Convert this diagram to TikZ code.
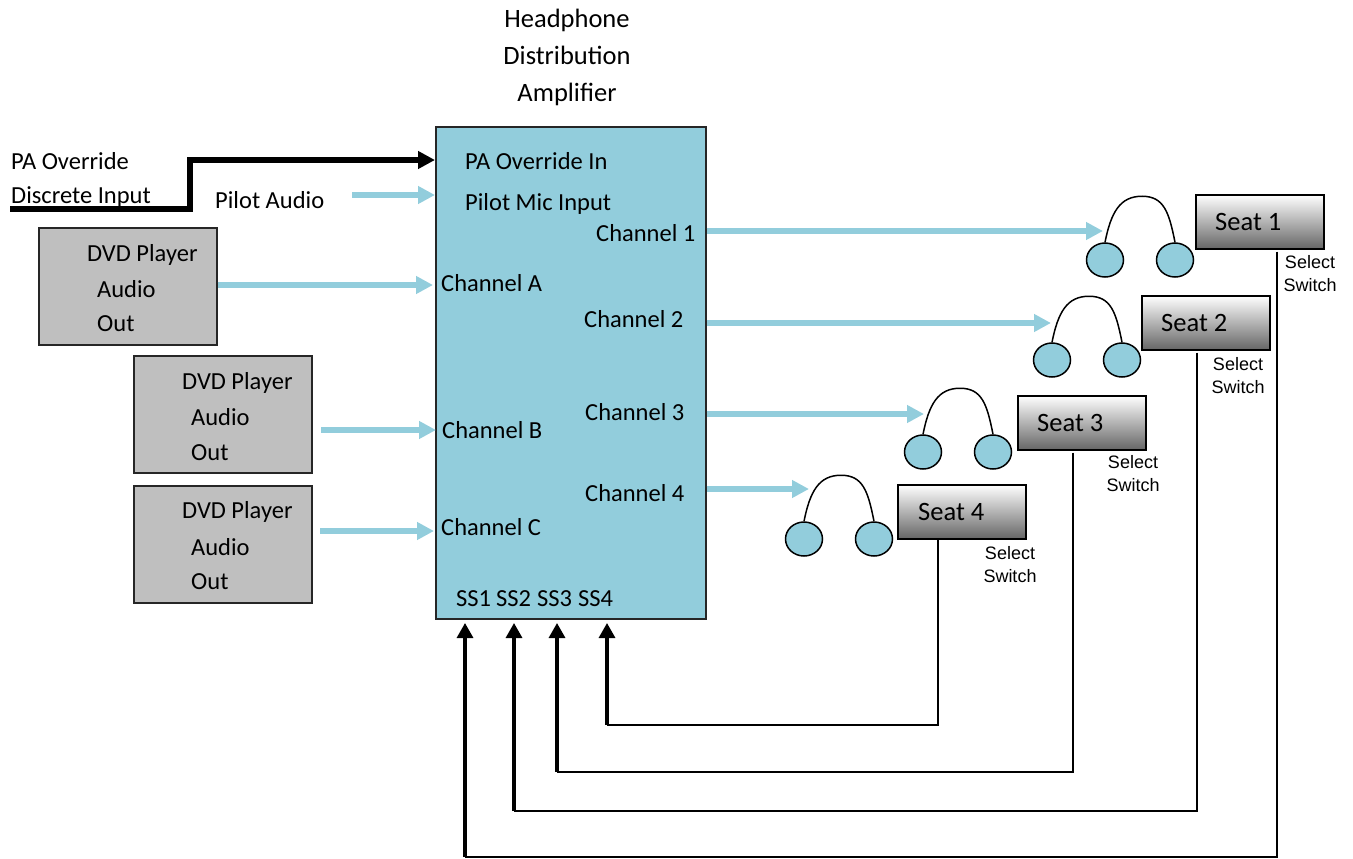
\documentclass[tikz,border=0pt]{standalone}
\usepackage{fontspec}
\setmainfont{Carlito}
\newfontfamily\swfamily{Liberation Sans}
\usetikzlibrary{arrows.meta}
\usetikzlibrary{shapes.geometric}
\definecolor{ampblue}{HTML}{92CDDC}
\definecolor{dvdgray}{HTML}{BFBFBF}
\newcommand{\swfont}{\swfamily\fontsize{18}{23}\selectfont}
\tikzset{
	lbl/.style={inner sep=0pt,anchor=base west,font=\fontsize{24.5}{26}\selectfont},
	seatlbl/.style={lbl,font=\fontsize{26.5}{26}\selectfont},
	swlbl/.style={inner sep=0pt,align=center,font=\swfont},
	ampbox/.style={draw=black!85,line width=1.5pt,fill=ampblue,minimum width=270pt,minimum height=492pt,anchor=north west},
	dvdbox/.style={draw=black!85,line width=1.5pt,fill=dvdgray,minimum width=178pt,minimum height=117pt,anchor=north west},
	seatbox/.style={draw=black,line width=1.5pt,top color=white,bottom color=black!60,minimum width=128pt,minimum height=54pt,anchor=north west},
	earcup/.style={draw=black,line width=1.5pt,fill=ampblue,ellipse,minimum width=37pt,minimum height=34pt,inner sep=0pt},
	audio/.style={draw=ampblue,line width=6pt,-{Triangle[length=17pt,width=17pt]}},
	override/.style={draw=black,line width=5.5pt,-{Triangle[length=17pt,width=17pt]}},
	senseline/.style={draw=black,line width=2pt},
	sense/.style={draw=black,line width=3.2pt,-{Triangle[length=15pt,width=16pt]}}
}
\newcommand{\headset}[3]{
	\node[earcup] (#1l) at (#2,#3) {};
	\node[earcup] (#1r) at (#2+70,#3) {};
	\draw[line width=1.5pt] (#1l.north) .. controls +(6,-30) and +(-22,0) .. ++(37,-46) .. controls +(22,0) and +(-6,-30) .. (#1r.north);
}
\begin{document}
\begin{tikzpicture}[x=1pt,y=-1pt]
	\useasboundingbox (0,0) rectangle (1353,859);
	\node[ampbox] (amp) at (435,126) {};
	\node[dvdbox] (dvd1) at (38,227) {};
	\node[dvdbox] (dvd2) at (133,355) {};
	\node[dvdbox] (dvd3) at (133,485) {};
	\node[seatbox] (seat1) at (1195,194) {};
	\node[seatbox] (seat2) at (1141,295) {};
	\node[seatbox] (seat3) at (1017,395) {};
	\node[seatbox] (seat4) at (897,484) {};
	\headset{hpa}{1105}{260}
	\headset{hpb}{1052}{360}
	\headset{hpc}{923}{452}
	\headset{hpd}{804}{539}

	\node[lbl,anchor=center,align=center,font=\fontsize{26.5}{26}\selectfont] (title) at (567,57.5) {Headphone\\[11pt]Distribution\\[11pt]Amplifier};
	\node[lbl] (paname) at (11,169) {PA Override};
	\node[lbl] (paname2) at (11,203) {Discrete Input};
	\node[lbl] (pilot) at (215,208) {Pilot Audio};
	\node[lbl] (dvdaa) at (87,261) {DVD Player};
	\node[lbl] (dvdab) at (97,297) {Audio};
	\node[lbl] (dvdac) at (97,331) {Out};
	\node[lbl] (dvdba) at (182,389) {DVD Player};
	\node[lbl] (dvdbb) at (191,425) {Audio};
	\node[lbl] (dvdbc) at (191,460) {Out};
	\node[lbl] (dvdca) at (182,518) {DVD Player};
	\node[lbl] (dvdcb) at (191,555) {Audio};
	\node[lbl] (dvdcc) at (191,589) {Out};
	\node[lbl] (pain) at (465,169) {PA Override In};
	\node[lbl] (micin) at (465,210) {Pilot Mic Input};
	\node[lbl] (cha) at (441,291) {Channel A};
	\node[lbl] (chb) at (442,438) {Channel B};
	\node[lbl] (chc) at (441,535) {Channel C};
	\node[lbl] (ch1) at (596,241) {Channel 1};
	\node[lbl] (ch2) at (584,327) {Channel 2};
	\node[lbl] (ch3) at (585,420) {Channel 3};
	\node[lbl] (ch4) at (585,501) {Channel 4};
	\node[lbl] (ss1) at (456,606) {SS1};
	\node[lbl] (ss2) at (496,606) {SS2};
	\node[lbl] (ss3) at (537,606) {SS3};
	\node[lbl] (ss4) at (578,606) {SS4};
	\node[seatlbl] (seata) at (1215,230) {Seat 1};
	\node[seatlbl] (seatb) at (1161,331) {Seat 2};
	\node[seatlbl] (seatc) at (1037,431) {Seat 3};
	\node[seatlbl] (seatd) at (918,520) {Seat 4};
	\node[swlbl] (swa) at (1310,274) {Select\\Switch};
	\node[swlbl] (swb) at (1238,376) {Select\\Switch};
	\node[swlbl] (swc) at (1133,474) {Select\\Switch};
	\node[swlbl] (swd) at (1010,565) {Select\\Switch};

	\coordinate (pastart) at (10,209);
	\coordinate (pastep) at (190,160);
	\coordinate (pilotstart) at (352,195);
	\coordinate (inb) at (321,430);
	\coordinate (inc) at (320,531);
	\coordinate (tipa) at (433,285);
	\coordinate (tipb) at (436,430);
	\coordinate (tipc) at (434,531);
	\coordinate (hpain) at (1103,231);
	\coordinate (hpbin) at (1051,323);
	\coordinate (hpcin) at (924,414);
	\coordinate (hpdin) at (809,489);
	\coordinate (fb1) at (1277,857);
	\coordinate (fb2) at (1197,811);
	\coordinate (fb3) at (1073,772);
	\coordinate (fb4) at (938,725);
	\coordinate (tip1) at (465,623);
	\coordinate (tip2) at (514,623);
	\coordinate (tip3) at (557,623);
	\coordinate (tip4) at (607,623);

	\draw[override] (pastart) -| (pastep) -- (amp.west |- pastep);
	\draw[audio] (pilotstart) -- (amp.west |- pilotstart);
	\draw[audio] (dvd1.east |- tipa) -- (tipa);
	\draw[audio] (inb) -- (tipb);
	\draw[audio] (inc) -- (tipc);
	\draw[audio] (amp.east |- hpain) -- (hpain);
	\draw[audio] (amp.east |- hpbin) -- (hpbin);
	\draw[audio] (amp.east |- hpcin) -- (hpcin);
	\draw[audio] (amp.east |- hpdin) -- (hpdin);
	\draw[senseline,shorten <=2pt] (seat1.south -| fb1) -- (fb1) -- (fb1 -| tip1);
	\draw[senseline,shorten <=2pt] (seat2.south -| fb2) -- (fb2) -- (fb2 -| tip2);
	\draw[senseline,shorten <=2pt] (seat3.south -| fb3) -- (fb3) -- (fb3 -| tip3);
	\draw[senseline] (seat4.south -| fb4) -- (fb4) -- (fb4 -| tip4);
	\draw[sense] (fb1 -| tip1) -- (tip1);
	\draw[sense] (fb2 -| tip2) -- (tip2);
	\draw[sense] (fb3 -| tip3) -- (tip3);
	\draw[sense] (fb4 -| tip4) -- (tip4);
\end{tikzpicture}
\end{document}
